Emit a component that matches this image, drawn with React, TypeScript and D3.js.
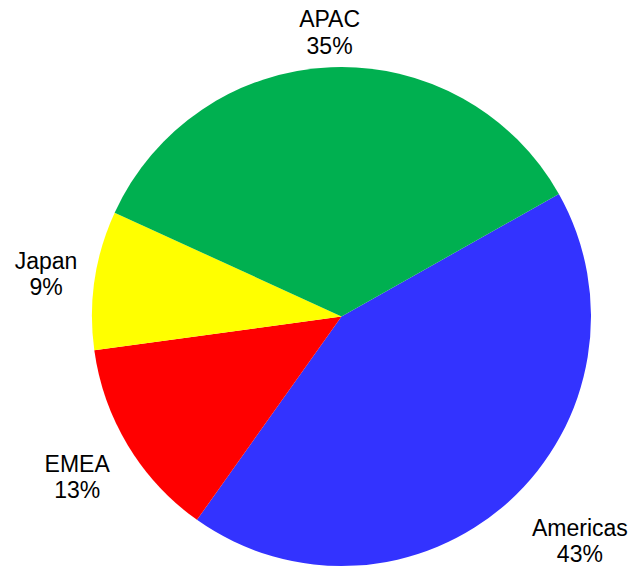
import React from "react";
import * as d3 from "d3";

const categories = ["Americas", "EMEA", "Japan", "APAC"];
const shares = [43, 13, 9, 35];
const colors = ["#3333FF", "#FF0000", "#FFFF00", "#00B050"];

// layout (not data)
const W = 640;
const H = 568;
const CX = 341.5;
const CY = 316.5;
const R = 249.5;
const START_DEG = 60.6;
const LABEL_R = R + 35;
const labelNudge: Record<string, [number, number]> = {
  APAC: [0, 0],
  Japan: [-14, -1],
  EMEA: [-21, 13],
  Americas: [48, 13],
};

export default function App() {
  const start = (START_DEG * Math.PI) / 180;
  const pie = d3
    .pie<number>()
    .sort(null)
    .startAngle(start)
    .endAngle(start + 2 * Math.PI)
    .value((d) => d);
  const arcs = pie(shares);
  const arc = d3.arc<d3.PieArcDatum<number>>().innerRadius(0).outerRadius(R);
  const total = d3.sum(shares);

  return (
    <svg
      width={W}
      height={H}
      style={{ position: "absolute", left: 0, top: 0, background: "#fff" }}
      fontFamily="'Liberation Sans', Arial, sans-serif"
    >
      <g transform={`translate(${CX},${CY})`}>
        {arcs.map((a, i) => (
          <path key={categories[i]} d={arc(a) || ""} fill={colors[i]} />
        ))}
        {arcs.map((a, i) => {
          const mid = (a.startAngle + a.endAngle) / 2;
          const [nx, ny] = labelNudge[categories[i]];
          const x = Math.sin(mid) * LABEL_R + nx;
          const y = -Math.cos(mid) * LABEL_R - 5 + ny;
          const pct = Math.round((shares[i] / total) * 100);
          return (
            <text
              key={"l" + categories[i]}
              x={x}
              y={y}
              textAnchor="middle"
              fontSize={23}
              fill="#000"
            >
              <tspan x={x} y={y}>
                {categories[i]}
              </tspan>
              <tspan x={x} y={y + 26.5}>
                {pct}%
              </tspan>
            </text>
          );
        })}
      </g>
    </svg>
  );
}
